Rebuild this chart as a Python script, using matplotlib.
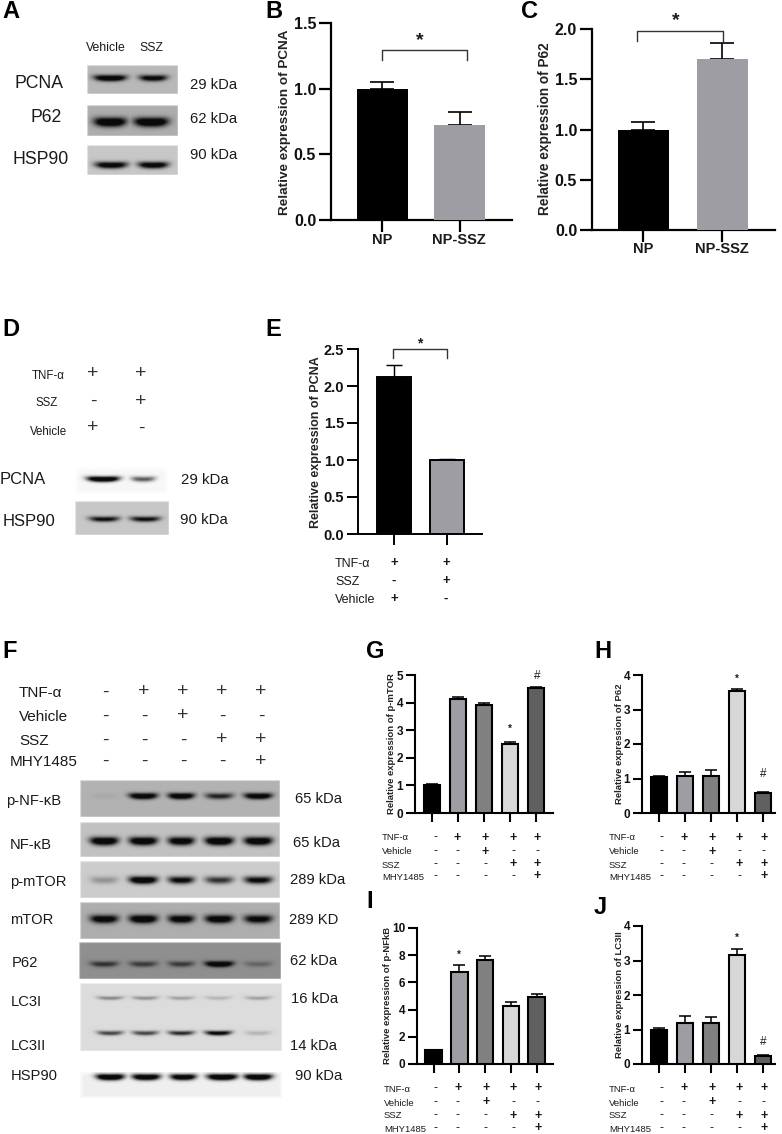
import numpy as np
import matplotlib
matplotlib.use('Agg')
import matplotlib.pyplot as plt

plt.rcParams['font.family'] = ['Liberation Sans', 'DejaVu Sans']

W, H = 782, 1134

# bar values
b_vals = [1.0, 0.72]
b_err = [0.05, 0.10]
c_vals = [1.0, 1.70]
c_err = [0.07, 0.16]
e_vals = [2.12, 1.0]
e_err = [0.17, 0.02]
g_vals = [1.0, 4.12, 3.92, 2.5, 4.52]
g_err = [0.05, 0.10, 0.05, 0.09, 0.05]
h_vals = [1.03, 1.08, 1.08, 3.55, 0.57]
h_err = [0.04, 0.10, 0.17, 0.04, 0.04]
i_vals = [1.0, 6.8, 7.65, 4.25, 4.95]
i_err = [0.05, 0.45, 0.28, 0.3, 0.2]
j_vals = [0.98, 1.2, 1.2, 3.16, 0.23]
j_err = [0.07, 0.18, 0.16, 0.17, 0.02]

two_cols = ['black', '#9d9da3']
five_cols = ['black', '#9d9da3', '#808080', '#d6d7d7', '#606060']

# treatment rows
row_names = ['TNF-α', 'Vehicle', 'SSZ', 'MHY1485']
tnf = ['-', '+', '+', '+', '+']
veh = ['-', '-', '+', '-', '-']
ssz = ['-', '-', '-', '+', '+']
mhy = ['-', '-', '-', '-', '+']

# western blot band strengths, one per lane
a_pcna = [0.95, 0.8]
a_p62 = [1.0, 1.0]
a_hsp = [0.85, 0.85]
d_pcna = [1.0, 0.45]
d_hsp = [0.7, 0.7]
f_pnfkb = [0.04, 0.95, 0.95, 0.6, 0.9]
f_nfkb = [0.95, 0.95, 0.9, 1.0, 0.95]
f_pmtor = [0.2, 0.95, 0.75, 0.55, 0.75]
f_mtor = [0.85, 0.95, 0.85, 0.9, 0.8]
f_p62 = [0.5, 0.45, 0.45, 1.0, 0.22]
f_lc3i = [0.28, 0.25, 0.2, 0.13, 0.2]
f_lc3ii = [0.5, 0.5, 0.6, 0.8, 0.13]
f_hsp = [1.0, 0.95, 0.9, 1.0, 1.0]

fig = plt.figure(figsize=(W / 100, H / 100), dpi=100)
page = fig.add_axes([0, 0, 1, 1])
page.set_xlim(0, W)
page.set_ylim(H, 0)
page.axis('off')


def put(x, y, s, size=11, weight='normal', ha='left', color='#1a1a1a', **kw):
    page.text(x, y, s, fontsize=size, fontweight=weight, ha=ha, va='center', color=color, **kw)


def blot(x0, x1, y0, y1, bg, lanes, widths, bands, fade=1.0):
    # bands is a list of (y, strengths, thickness), positions in page pixels
    xs = np.arange(x0, x1, 0.5)
    ys = np.arange(y0, y1, 0.5)
    xx, yy = np.meshgrid(xs, ys)
    dark = np.zeros_like(xx)
    for band_y, strengths, thick in bands:
        for cx, hw, st in zip(lanes, widths, strengths):
            sag = -0.8 * ((xx - cx) / hw) ** 2
            d = st * np.exp(-np.abs((xx - cx) / hw) ** 3.5) * np.exp(-((yy - band_y - sag) / thick) ** 2)
            dark = np.maximum(dark, d)
    dark = np.clip(dark * 1.5, 0, 1)
    edge = np.minimum.reduce([xx - x0, x1 - xx, yy - y0, y1 - yy])
    back = 1 - (1 - bg) * np.clip(edge / fade, 0.35, 1)
    img = back * (1 - dark) + 0.04 * dark
    page.imshow(img, cmap='gray', vmin=0, vmax=1, extent=[x0, x1, y1, y0],
                aspect='auto', interpolation='bilinear', zorder=1)


def bars(spine, end, top, bottom, first, step, width, vals, err, cols, ymax, yticks, ytl,
         tsize, edge=True, lw=1.6, cap=4):
    n = len(vals)
    ax = fig.add_axes([spine / W, 1 - bottom / H, (end - spine) / W, (bottom - top) / H])
    ax.patch.set_alpha(0)
    pos = np.arange(n)
    bw = width / step
    if edge:
        ax.bar(pos, vals, bw, color=cols, edgecolor='black', linewidth=lw, zorder=3)
    else:
        ax.bar(pos, vals, bw, color=cols, zorder=3)
    ax.errorbar(pos, vals, yerr=[[0] * n, err], fmt='none', ecolor='black',
                elinewidth=lw * 0.75, capsize=cap, capthick=lw * 0.75, zorder=2)
    ax.set_xlim((spine - first) / step, (end - first) / step)
    ax.set_ylim(0, ymax)
    ax.set_xticks(pos)
    ax.set_xticklabels([])
    ax.set_yticks(yticks)
    ax.set_yticklabels(ytl, fontsize=tsize, fontweight='bold', color='#111111')
    ax.tick_params(axis='both', width=lw, length=tsize * 0.75, pad=2)
    for s in ['top', 'right']:
        ax.spines[s].set_visible(False)
    for s in ['left', 'bottom']:
        ax.spines[s].set_linewidth(lw)
    return ax


def ylab(x, y, s, size):
    page.text(x, y, s, fontsize=size, fontweight='bold', rotation=90,
              ha='center', va='center', color='#222222')


def bracket(x0, x1, y, drop):
    page.plot([x0, x0, x1, x1], [y + drop, y, y, y + drop], color='#333333', lw=1.0)


def sign_rows(xs, ys, rows, size=9, lab_x=None, names=None, lab_size=6.8):
    for y, row, name in zip(ys, rows, names):
        put(lab_x, y, name, size=lab_size)
        for x, s in zip(xs, row):
            put(x, y - 0.5, s, size=size, ha='center', weight='bold' if s == '+' else 'normal')


# panel letters
for x, y, s in [(2, 12, 'A'), (265, 11, 'B'), (521, 11, 'C'), (2, 330, 'D'), (265, 330, 'E'),
                (2, 652, 'F'), (366, 652, 'G'), (594, 652, 'H'), (366, 902, 'I'), (594, 908, 'J')]:
    put(x, y, s, size=17, weight='bold', color='black')

# A
put(86, 48, 'Vehicle', size=8.8)
put(139, 48, 'SSZ', size=8.8)
for y, s, x in [(84, 'PCNA', 15), (118, 'P62', 30), (160, 'HSP90', 12)]:
    put(x, y, s, size=12.7)
for y, s in [(85, '29 kDa'), (119, '62 kDa'), (155, '90 kDa')]:
    put(190, y, s, size=10.6)
blot(87, 178, 65, 94, 0.72, [110, 153], [16, 14], [(78, a_pcna, 3)])
blot(87, 178, 105, 136, 0.68, [110, 151], [16, 17], [(122, a_p62, 4.5)])
blot(87, 178, 145, 175, 0.78, [111, 153], [16, 15], [(165, a_hsp, 3.2)])

# B
bars(331, 512, 23, 220, 382, 77.5, 51, b_vals, b_err, two_cols, 1.5, [0, 0.5, 1, 1.5],
     ['0.0', '0.5', '1.0', '1.5'], 11.5, edge=False, cap=8.7)
put(382, 240, 'NP', size=10.5, weight='bold', ha='center')
put(459, 240, 'NP-SSZ', size=10.5, weight='bold', ha='center')
ylab(285, 122, 'Relative expression of PCNA', 9.7)
bracket(382, 467, 50, 10)
put(420, 41, '*', size=14, weight='bold', ha='center')

# C
bars(592, 775, 29, 230, 643, 79, 51, c_vals, c_err, two_cols, 2.0, [0, 0.5, 1, 1.5, 2],
     ['0.0', '0.5', '1.0', '1.5', '2.0'], 11.5, edge=False, cap=8.7)
put(643, 249, 'NP', size=10.5, weight='bold', ha='center')
put(722, 249, 'NP-SSZ', size=10.5, weight='bold', ha='center')
ylab(545, 129, 'Relative expression of P62', 9.8)
bracket(637, 723, 31, 10)
put(676, 21, '*', size=14, weight='bold', ha='center')

# D
for y, s, x in [(376, 'TNF-α', 32), (403, 'SSZ', 35), (432, 'Vehicle', 30)]:
    put(x, y, s, size=8.3)
for x, row in [(93, ['+', '-', '+']), (141, ['+', '+', '-'])]:
    for y, s in zip([374, 401, 428], row):
        put(x, y, s, size=14, ha='center', color='#333333')
put(0, 480, 'PCNA', size=12)
put(3, 522, 'HSP90', size=12)
put(181, 480, '29 kDa', size=10.8)
put(180, 520, '90 kDa', size=10.8)
blot(75, 168, 467, 494, 0.97, [103, 143], [16, 12], [(479, d_pcna, 2.6)], fade=4)
blot(75, 169, 501, 535, 0.78, [104, 145], [15, 15], [(519, d_hsp, 2.6)])

# E
bars(358, 482, 349, 534, 394, 53, 34, e_vals, e_err, two_cols, 2.5, [0, 0.5, 1, 1.5, 2, 2.5],
     ['0.0', '0.5', '1.0', '1.5', '2.0', '2.5'], 10.5, lw=1.4, cap=6)
ylab(316, 442, 'Relative expression of PCNA', 9)
bracket(393, 447, 349, 9)
put(420, 343, '*', size=10, weight='bold', ha='center')
for y, s, signs in [(564, 'TNF-α', ['+', '+']), (582, 'SSZ', ['-', '+']), (600, 'Vehicle', ['+', '-'])]:
    put(335, y, s, size=9)
    for x, t in zip([394, 446], signs):
        put(x, y - 1, t, size=9.5, ha='center', weight='bold')

# F
lane_x = [105, 144, 183, 222, 261]
for y, row, name, x in [(693, tnf, 'TNF-α', 19), (717, veh, 'Vehicle', 19),
                        (741, ssz, 'SSZ', 19), (762, mhy, 'MHY1485', 10)]:
    put(x, y, name, size=11)
    for lx, s in zip(lane_x, row):
        put(lx, y - 1, s, size=14, ha='center', color='#333333')

f_lanes = [104, 143, 181, 219, 258]
f_widths = [14, 14, 13, 14, 14]
blot(80, 280, 780, 817, 0.70, f_lanes, f_widths, [(796, f_pnfkb, 3.0)])
blot(80, 280, 822, 857, 0.76, f_lanes, f_widths, [(841, f_nfkb, 4.0)])
blot(80, 280, 861, 898, 0.80, f_lanes, f_widths, [(880, f_pmtor, 3.6)])
blot(80, 280, 902, 939, 0.68, f_lanes, f_widths, [(919, f_mtor, 4.0)])
blot(79, 281, 942, 979, 0.56, f_lanes, f_widths, [(964, f_p62, 2.8)])
blot(80, 282, 983, 1051, 0.86, [110, 145, 181, 218, 258], [13, 13, 13, 13, 13],
     [(998, f_lc3i, 1.8), (1033, f_lc3ii, 2.2)])
blot(80, 282, 1072, 1098, 0.94, [110, 146, 183, 222, 258], [14, 14, 13, 15, 14],
     [(1077, f_hsp, 3)], fade=3)

for y, s, x in [(801, 'p-NF-κB', 6), (845, 'NF-κB', 10), (882, 'p-mTOR', 10), (920, 'mTOR', 10),
                (963, 'P62', 12), (1002, 'LC3I', 11), (1046, 'LC3II', 11), (1076, 'HSP90', 11)]:
    put(x, y, s, size=10.6)
for y, s, x in [(799, '65 kDa', 295), (843, '65 kDa', 293), (880, '289 kDa', 290), (920, '289 KD', 289),
                (961, '62 kDa', 290), (999, '16 kDa', 291), (1046, '14 kDa', 290), (1076, '90 kDa', 295)]:
    put(x, y, s, size=10.6)

# G H I J
rows = [tnf, veh, ssz, mhy]
yt5 = [0, 1, 2, 3, 4, 5]
yt4 = [0, 1, 2, 3, 4]
yt10 = [0, 2, 4, 6, 8, 10]
bars(415, 553, 675, 813, 432, 26, 16.5, g_vals, g_err, five_cols, 5, yt5, [str(v) for v in yt5], 8.5, lw=1.5)
bars(642, 775, 675, 813, 659, 26, 16.5, h_vals, h_err, five_cols, 4, yt4, [str(v) for v in yt4], 8.5, lw=1.5)
bars(417, 553, 928, 1064, 433.5, 25.8, 16.5, i_vals, i_err, five_cols, 10, yt10, [str(v) for v in yt10], 8.5, lw=1.5)
bars(642, 775, 926, 1064, 659, 26, 16.5, j_vals, j_err, five_cols, 4, yt4, [str(v) for v in yt4], 8.5, lw=1.5)

ylab(392, 744, 'Relative expression of p-mTOR', 6.8)
ylab(619, 744, 'Relative expression of P62', 6.8)
ylab(387, 996, 'Relative expression of p-NFkB', 6.8)
ylab(620, 995, 'Relative expression of LC3II', 6.8)

sign_rows([435, 457, 485, 513, 537], [838, 852, 865, 877], rows, lab_x=382, names=row_names)
sign_rows([661, 684, 712, 739, 764], [838, 852, 865, 877], rows, lab_x=609, names=row_names)
sign_rows([436, 458, 486, 513, 538], [1089, 1103, 1116, 1129], rows, lab_x=384, names=row_names)
sign_rows([661, 684, 712, 739, 764], [1089, 1103, 1116, 1129], rows, lab_x=609, names=row_names)

put(510, 729, '*', size=7, ha='center', weight='bold')
put(537, 676, '#', size=8.5, ha='center')
put(737, 679, '*', size=7, ha='center', weight='bold')
put(763, 774, '#', size=8.5, ha='center')
put(459, 955, '*', size=7, ha='center', weight='bold')
put(737, 938, '*', size=7, ha='center', weight='bold')
put(763, 1042, '#', size=8.5, ha='center')

page.set_xlim(0, W)
page.set_ylim(H, 0)
fig.savefig('out.png', dpi=100)
